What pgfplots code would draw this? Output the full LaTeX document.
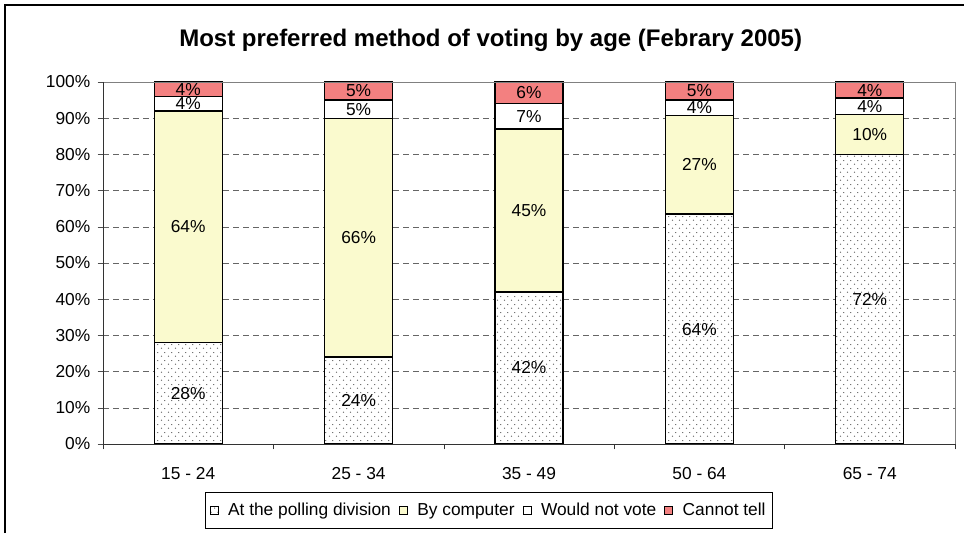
\documentclass[border=0pt]{standalone}
\usepackage{pgfplots}
\pgfplotsset{compat=1.18}
\usepackage{pgfplotstable}
\usepackage{fontspec}
\setmainfont{Liberation Sans}
\usetikzlibrary{patterns}
\definecolor{compyellow}{RGB}{250,250,206}
\definecolor{tellred}{RGB}{243,128,128}
\pgfdeclarepatternformonly{sparsedots}{\pgfpointorigin}{\pgfpoint{5pt}{6pt}}{\pgfpoint{5pt}{6pt}}{%
  \pgfpathcircle{\pgfpoint{1.25pt}{1.5pt}}{0.5pt}%
  \pgfpathcircle{\pgfpoint{3.75pt}{4.5pt}}{0.5pt}%
  \pgfusepath{fill}%
}
\newcommand\lab{\fontsize{13}{15}\selectfont}
% heights of the bar segments (65-74 is scaled to 100%) and the printed percentages
\pgfplotstableread{
x poll comp wnv ct lpoll lcomp lwnv lct
0 28 64 4 4 28 64 4 4
1 24 66 5 5 24 66 5 5
2 42 45 7 6 42 45 7 6
3 63.5 27.2 4.3 5 64 27 4 5
4 80 11.1 4.45 4.45 72 10 4 4
}\datatable
\begin{document}
\begin{tikzpicture}
\useasboundingbox (0,0) rectangle (723pt,399.75pt);
\draw[line width=1.5pt] (3.75pt,0) -- (3.75pt,396pt) -- (723pt,396pt);
\node[anchor=base,font=\fontsize{18}{21}\selectfont\bfseries] at (368pt,364.5pt) {Most preferred method of voting by age (Febrary 2005)};
\begin{axis}[
  at={(77.25pt,66.75pt)}, anchor=south west,
  scale only axis, width=639pt, height=271.5pt,
  ybar stacked, bar width=51pt,
  xmin=-0.5, xmax=4.5, ymin=0, ymax=100,
  xtick={0,1,2,3,4},
  xticklabels={15 - 24,25 - 34,35 - 49,50 - 64,65 - 74},
  minor xtick={-0.5,0.5,1.5,2.5,3.5,4.5},
  major x tick style={draw=none},
  minor x tick style={black!80},
  xtick pos=bottom, ytick pos=left,
  tick align=outside, major tick length=4pt, minor tick length=4pt,
  ytick={0,10,...,100},
  yticklabel={\pgfmathparse{int(\tick)}\pgfmathresult\%},
  y tick style={black!70},
  ymajorgrids, grid style={dashed, black!60, dash pattern=on 4.5pt off 3pt},
  axis line style={draw=none},
  tick label style={font=\lab},
  /pgf/number format/assume math mode=true,
  x tick label style={yshift=-10pt},
  y tick label style={xshift=-2pt},
  point meta=explicit symbolic,
  nodes near coords={\pgfplotspointmeta\%},
  every node near coord/.append style={font=\lab, text=black, anchor=center, inner sep=1pt},
  legend columns=4,
  legend style={at={(0.453,-0.1326)}, anchor=north, draw=black, font=\lab,
     inner xsep=3pt, inner ysep=6pt,
     /tikz/every even column/.append style={column sep=4pt},
     /tikz/every odd column/.append style={column sep=5pt}},
  legend image code/.code={\draw[#1, line width=0.8pt] (0pt,-3pt) rectangle (6pt,3pt);},
  after end axis/.code={
    \draw[black!50] (rel axis cs:0,1) -- (rel axis cs:1,1) -- (rel axis cs:1,0);
    \draw[black!80] (rel axis cs:0,1) -- (rel axis cs:0,0) -- (rel axis cs:1,0);
  },
]
\addplot[draw=black, line width=1pt, fill=white, postaction={pattern=sparsedots, pattern color=black!75}] table[x=x, y=poll, meta=lpoll] {\datatable};
\addplot[draw=black, line width=1pt, fill=compyellow] table[x=x, y=comp, meta=lcomp] {\datatable};
\addplot[draw=black, line width=1pt, fill=white] table[x=x, y=wnv, meta=lwnv] {\datatable};
\addplot[draw=black, line width=1pt, fill=tellred] table[x=x, y=ct, meta=lct] {\datatable};
\legend{At the polling division, By computer, Would not vote, Cannot tell}
\end{axis}
\end{tikzpicture}
\end{document}
